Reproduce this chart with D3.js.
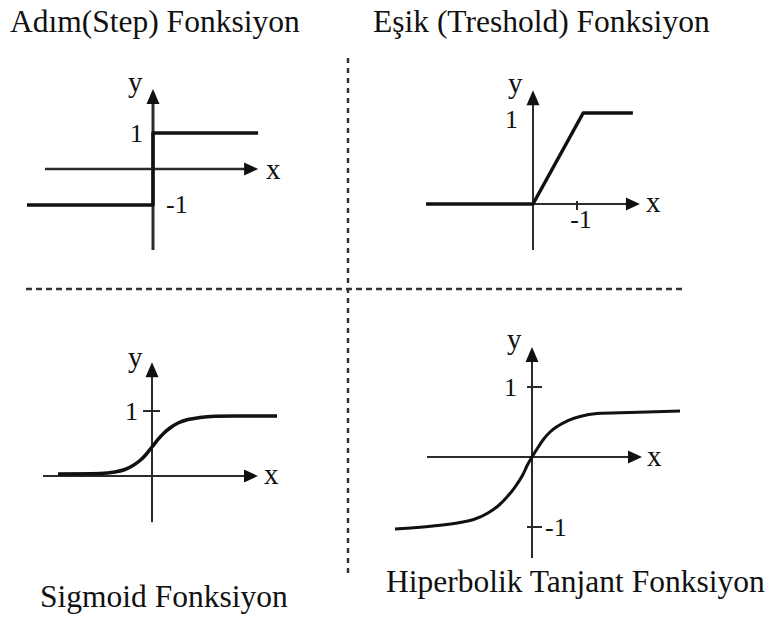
<!DOCTYPE html>
<html>
<head>
<meta charset="utf-8">
<script src="https://cdn.jsdelivr.net/npm/d3@7"></script>
<style>
  html, body { margin: 0; padding: 0; background: #fff; }
  svg { display: block; }
  text { font-family: "Liberation Serif", "Times New Roman", serif; fill: #111; }
</style>
</head>
<body>
<svg id="chart" width="778" height="642"></svg>
<script>
// ---------- DATA ----------
const titles = ["Adım(Step) Fonksiyon", "Eşik (Treshold) Fonksiyon", "Sigmoid Fonksiyon", "Hiperbolik Tanjant Fonksiyon"];

// Step function (two levels)
const stepX = [-3.5, 0, 0, 2.92];
const stepY = [-1, -1, 1, 1];
const stepLabels = ["1", "-1"];

// Threshold (ramp) function
const thresholdX = [-2.43, 0, 1.14, 2.27];
const thresholdY = [0, 0, 1, 1];
const thresholdTicks = [1];
const thresholdLabels = ["1", "-1"];

// Sigmoid
const sigmoidX = [-2.35, -1.3, -0.925, -0.675, -0.475, -0.3, -0.15, 0, 0.15, 0.3, 0.45, 0.65, 0.9, 1.2, 1.575, 2.075, 3.125];
const sigmoidY = [0.031, 0.038, 0.062, 0.1, 0.162, 0.238, 0.331, 0.446, 0.562, 0.662, 0.738, 0.815, 0.869, 0.9, 0.918, 0.923, 0.923];
const sigmoidTicks = [1];
const sigmoidLabels = ["1"];

// Hyperbolic tangent
const tanhX = [-3.425, -2.475, -1.8, -1.425, -1.1, -0.85, -0.625, -0.425, -0.22, -0.115, 0, 0.125, 0.275, 0.45, 0.65, 0.9, 1.2, 1.625, 2.45, 3.7];
const tanhY = [-1.029, -0.986, -0.936, -0.886, -0.8, -0.7, -0.571, -0.429, -0.243, -0.114, 0, 0.114, 0.243, 0.357, 0.443, 0.521, 0.579, 0.621, 0.636, 0.657];
const tanhTicks = [1, -1];
const tanhLabels = ["1", "-1"];

const axisNames = ["x", "y"];

// ---------- LAYOUT ----------
const svg = d3.select("#chart");
const AX = "#2b2b2b", CURVE = "#111";

function makePanel(cfg) {
  const x = d3.scaleLinear().domain([0, 1]).range([cfg.ox, cfg.ox + cfg.ux]);
  const y = d3.scaleLinear().domain([0, 1]).range([cfg.oy, cfg.oy - cfg.uy]);
  const g = svg.append("g");
  const xa = cfg.xAxis, ya = cfg.yAxis;
  // x-axis
  g.append("line").attr("x1", x(xa[0])).attr("x2", x(xa[1]) - 8)
    .attr("y1", y(0)).attr("y2", y(0))
    .attr("stroke", AX).attr("stroke-width", cfg.axW[0]);
  const tx = x(xa[1]), ty = y(0);
  g.append("path").attr("d", `M${tx},${ty} L${tx - 14},${ty - 6.5} L${tx - 14},${ty + 6.5} Z`).attr("fill", "#111");
  // y-axis
  g.append("line").attr("x1", x(0)).attr("x2", x(0))
    .attr("y1", y(ya[0])).attr("y2", y(ya[1]) + 8)
    .attr("stroke", AX).attr("stroke-width", cfg.axW[1]);
  const ux = x(0), uy = y(ya[1]);
  g.append("path").attr("d", `M${ux},${uy} L${ux - 6.5},${uy + 15} L${ux + 6.5},${uy + 15} Z`).attr("fill", "#111");
  // axis names
  g.append("text").attr("x", tx + cfg.xName[0]).attr("y", ty + cfg.xName[1])
    .attr("font-size", 29).text(axisNames[0]);
  g.append("text").attr("x", ux + cfg.yName[0]).attr("y", uy + cfg.yName[1])
    .attr("font-size", 29).text(axisNames[1]);
  return {g, x, y};
}

function drawCurve(p, xs, ys, curve, w) {
  const pts = xs.map((d, i) => [d, ys[i]]);
  p.g.append("path")
    .attr("d", d3.line().x(d => p.x(d[0])).y(d => p.y(d[1])).curve(curve)(pts))
    .attr("fill", "none").attr("stroke", CURVE).attr("stroke-width", w)
    .attr("stroke-linejoin", "round");
}

// Dashed separators
const sepX = d3.scaleLinear().domain([0, 1]).range([26, 686]);
const sepY = d3.scaleLinear().domain([0, 1]).range([58, 578]);
svg.append("line").attr("x1", sepX(0)).attr("x2", sepX(1)).attr("y1", 289).attr("y2", 289)
  .attr("stroke", "#333").attr("stroke-width", 2.5).attr("stroke-dasharray", "6,4");
svg.append("line").attr("x1", 348).attr("x2", 348).attr("y1", sepY(0)).attr("y2", sepY(1))
  .attr("stroke", "#333").attr("stroke-width", 2.5).attr("stroke-dasharray", "5,5");

// Panel 1: Step
const p1 = makePanel({ox: 153, oy: 169, ux: 36, uy: 36, xAxis: [-3.0, 2.92], yAxis: [-2.25, 2.22],
  axW: [2.5, 3], xName: [8, 10], yName: [-25, 3]});
drawCurve(p1, stepX, stepY, d3.curveLinear, 3.5);
p1.g.append("text").attr("x", p1.x(0) - 10).attr("y", p1.y(1) + 9).attr("text-anchor", "end")
  .attr("font-size", 26).text(stepLabels[0]);
p1.g.append("text").attr("x", p1.x(0) + 13).attr("y", p1.y(-1) + 8)
  .attr("font-size", 26).text(stepLabels[1]);

// Panel 2: Threshold
const p2 = makePanel({ox: 533, oy: 204, ux: 44, uy: 91, xAxis: [-2.43, 2.43], yAxis: [-0.505, 1.25],
  axW: [2, 2], xName: [6, 8], yName: [-25, 3]});
drawCurve(p2, thresholdX, thresholdY, d3.curveLinear, 3.5);
thresholdTicks.forEach(t => {
  p2.g.append("line").attr("x1", p2.x(t)).attr("x2", p2.x(t)).attr("y1", p2.y(0) - 3).attr("y2", p2.y(0) + 6)
    .attr("stroke", AX).attr("stroke-width", 2);
});
p2.g.append("text").attr("x", p2.x(0) - 15).attr("y", p2.y(1) + 15).attr("text-anchor", "end")
  .attr("font-size", 26).text(thresholdLabels[0]);
p2.g.append("text").attr("x", p2.x(1) + 4).attr("y", p2.y(0) + 24).attr("text-anchor", "middle")
  .attr("font-size", 26).text(thresholdLabels[1]);

// Panel 3: Sigmoid
const p3 = makePanel({ox: 152, oy: 476, ux: 40, uy: 65, xAxis: [-2.725, 2.65], yAxis: [-0.71, 1.75],
  axW: [2, 2], xName: [6, 8], yName: [-24, 5]});
drawCurve(p3, sigmoidX, sigmoidY, d3.curveMonotoneX, 3.5);
sigmoidTicks.forEach(t => {
  p3.g.append("line").attr("x1", p3.x(0) - 9).attr("x2", p3.x(0) + 8).attr("y1", p3.y(t)).attr("y2", p3.y(t))
    .attr("stroke", AX).attr("stroke-width", 2);
});
p3.g.append("text").attr("x", p3.x(0) - 14).attr("y", p3.y(1) + 9).attr("text-anchor", "end")
  .attr("font-size", 26).text(sigmoidLabels[0]);

// Panel 4: Tanh
const p4 = makePanel({ox: 532, oy: 457, ux: 40, uy: 70, xAxis: [-2.625, 2.75], yAxis: [-1.443, 1.571],
  axW: [2, 2], xName: [5, 9], yName: [-25, 2]});
drawCurve(p4, tanhX, tanhY, d3.curveMonotoneX, 3);
tanhTicks.forEach(t => {
  p4.g.append("line").attr("x1", p4.x(0) - 5).attr("x2", p4.x(0) + 10).attr("y1", p4.y(t)).attr("y2", p4.y(t))
    .attr("stroke", AX).attr("stroke-width", 2);
});
p4.g.append("text").attr("x", p4.x(0) - 15).attr("y", p4.y(1) + 9).attr("text-anchor", "end")
  .attr("font-size", 26).text(tanhLabels[0]);
p4.g.append("text").attr("x", p4.x(0) + 13).attr("y", p4.y(-1) + 9)
  .attr("font-size", 26).text(tanhLabels[1]);

// Titles
const titlePos = [[10, 32], [373, 32], [40, 607], [386, 592]];
titles.forEach((t, i) => {
  svg.append("text").attr("x", titlePos[i][0]).attr("y", titlePos[i][1])
    .attr("font-size", 31.5).text(t);
});
</script>
</body>
</html>
